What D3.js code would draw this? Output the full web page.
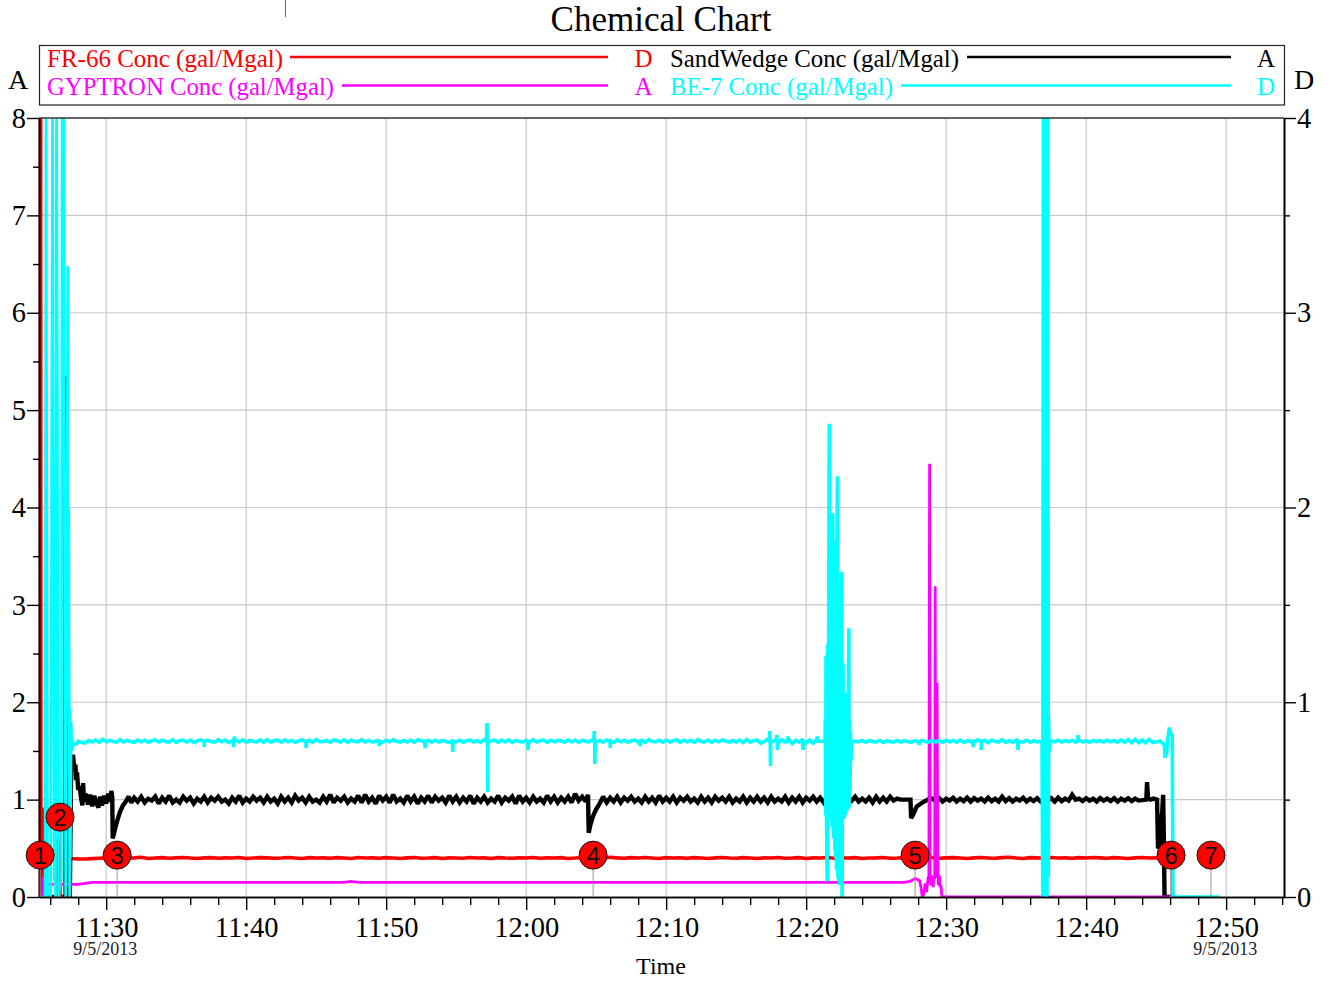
<!DOCTYPE html>
<html>
<head>
<meta charset="utf-8">
<script src="https://cdn.jsdelivr.net/npm/d3@7"></script>
<style>
html, body { margin: 0; padding: 0; background: #fff; }
svg { display: block; font-family: "Liberation Serif", serif; }
</style>
</head>
<body>
<div id="chart"></div>
<script>
"use strict";

// all times are minutes after 11:00 on 9/5/2013
var majorTicks = [30, 40, 50, 60, 70, 80, 90, 100, 110];
var majorLabels = ["11:30", "11:40", "11:50", "12:00", "12:10", "12:20", "12:30", "12:40", "12:50"];
var leftTicks = [0, 1, 2, 3, 4, 5, 6, 7, 8];
var rightTicks = [0, 1, 2, 3, 4];
var sampleStep = 0.25; // steady black and cyan runs
var slowStep = 0.5;    // steady red run

// FR-66, right axis
var frStart = [[25.2, 0], [25.3, 0], [25.31, 4.3], [25.34, 4.3], [25.35, 0], [25.46, 0], [25.5, 0.46], [25.54, 0], [26.43, 0], [26.5, 0.3], [26.65, 0.24], [26.7, 0.22], [26.73, 0], [27.4, 0], [27.45, 0.2]];
var frRun = [0.198, 0.196, 0.195, 0.197, 0.199, 0.201, 0.2, 0.203, 0.199, 0.201, 0.204, 0.198, 0.2, 0.202, 0.199, 0.201, 0.203, 0.2, 0.198, 0.201, 0.202, 0.199, 0.201, 0.2, 0.203, 0.198, 0.2, 0.202, 0.201, 0.199, 0.2, 0.203, 0.2, 0.198, 0.202, 0.2, 0.201, 0.199, 0.202, 0.2, 0.198, 0.203, 0.2, 0.201, 0.199, 0.202, 0.2, 0.198, 0.201, 0.203, 0.199, 0.2, 0.202, 0.198, 0.201, 0.2, 0.199, 0.203, 0.2, 0.201, 0.198, 0.202, 0.2, 0.199, 0.201, 0.2, 0.203, 0.199, 0.201, 0.2, 0.202, 0.198, 0.2, 0.203, 0.201, 0.199, 0.2, 0.204, 0.201, 0.199, 0.202, 0.2, 0.203, 0.2, 0.198, 0.202, 0.2, 0.201,
    0.199, 0.202, 0.2, 0.198, 0.201, 0.203, 0.2, 0.199, 0.202, 0.2, 0.198, 0.201, 0.2, 0.203, 0.199, 0.2, 0.202, 0.198, 0.201, 0.2, 0.203, 0.199, 0.201, 0.2, 0.202, 0.198, 0.2, 0.201, 0.203, 0.199, 0.2, 0.202, 0.201, 0.198, 0.2, 0.203, 0.199, 0.201, 0.202, 0.2, 0.198, 0.201, 0.203, 0.2, 0.199, 0.202, 0.204, 0.2, 0.198, 0.202, 0.201, 0.199, 0.203, 0.2, 0.201, 0.199, 0.202, 0.2, 0.203, 0.201, 0.199, 0.202, 0.2, 0.198, 0.201, 0.203, 0.2, 0.201];
var frEnd = [[106.15, 0.2], [106.18, 0], [106.3, 0]];

// SandWedge, left axis
var sandStart = [[25.3, 0], [27.1, 0], [27.13, 5.35], [27.16, 4.25], [27.22, 0], [27.4, 0], [27.5, 1.4], [27.64, 1.46], [27.72, 1.32], [27.8, 1.36], [27.86, 1.2], [27.92, 1.28], [28, 1.1], [28.1, 1.14], [28.2, 1.02], [28.3, 0.94], [28.36, 1.17], [28.42, 0.98], [28.55, 1.06], [28.7, 0.95], [28.85, 1.05], [29, 0.93], [29.15, 1.04], [29.3, 0.96], [29.45, 0.92], [29.57, 1.03], [29.7, 0.94], [29.85, 1.04], [30, 0.96], [30.15, 1.06], [30.3, 0.98], [30.38, 1.09], [30.44, 1.02], [30.47, 0.6], [30.6, 0.68], [30.8, 0.79], [31, 0.88], [31.2, 0.94], [31.4, 0.98], [31.6, 1.03], [31.8, 0.97]];
var sandRun1 = [1.02, 0.98, 1.03, 0.97, 1.01, 0.99, 1.03, 0.96, 1.02, 0.98, 1.04, 0.97, 1.0, 0.97, 1.03, 0.99, 1.02, 0.96, 1.01, 0.98, 1.03, 0.97, 1.02, 0.99, 1.03, 0.98, 1.0, 0.96, 1.02, 0.98, 1.04, 0.97,
    1.01, 0.98, 1.03, 0.99, 1.02, 0.97, 1.03, 0.98, 1.01, 0.96, 1.03, 0.98, 1.02, 0.97, 1.04, 0.99, 1.02, 0.97, 1.03, 0.98, 1.0, 0.97, 1.03, 0.98, 1.05, 0.97, 1.02, 0.99, 1.03, 0.97, 1.01, 0.98,
    1.04, 0.97, 1.05, 0.98, 1.02, 0.96, 1.04, 0.99, 1.03, 0.97, 1.05, 0.98, 1.01, 0.97, 1.04, 0.98, 1.03, 0.96, 1.02, 0.98, 1.04, 0.97, 1.03, 0.99, 1.02, 0.97, 1.04, 0.98, 1.03, 0.97, 1.02, 0.98,
    1.04, 0.96, 1.02, 0.98, 1.03, 0.97, 1.01, 0.98, 1.04, 0.97, 1.02, 0.99, 1.03, 0.96, 1.04, 0.98, 1.02, 0.97, 1.03, 0.98, 1.01, 0.97, 1.04, 0.98, 1.03, 0.97, 1.02, 0.98, 1.03, 0.97, 1.06, 0.99, 1.03, 0.98];
var sandDip1 = [[64.42, 1.05], [64.47, 0.66], [64.6, 0.74], [64.8, 0.84], [65, 0.9], [65.25, 0.96], [65.5, 1.03], [65.75, 0.97]];
var sandRun2 = [1.02, 0.98, 1.03, 0.97, 1.02, 0.99, 1.03, 0.98, 1.01, 0.97, 1.03, 0.98, 1.02, 0.97, 1.04, 0.98, 1.02, 0.98, 1.03, 0.97, 1.02, 0.99, 1.03, 0.98, 1.01, 0.97, 1.03, 0.98, 1.02, 0.97, 1.03, 0.99, 1.02, 0.98, 1.03, 0.97, 1.01, 0.98, 1.03, 0.97, 1.02, 0.98,
    1.03, 0.98, 1.02, 0.97, 1.03, 0.98, 1.01, 0.98, 1.03, 0.97, 1.02, 0.98, 1.03, 0.97, 1.02, 0.99, 1.03, 0.98, 1.02, 0.97, 1.03, 0.98, 1.07, 0.98, 1.03, 0.97, 1.02, 0.99, 1.03, 0.98, 1.01, 0.98, 1.02, 0.97, 1.03, 0.98, 1.02, 0.98, 1.03, 0.99, 1.01, 1.0];
var sandDip2 = [[87.45, 1.0], [87.5, 0.81], [87.65, 0.85], [87.9, 0.93], [88.3, 0.97], [88.7, 1.0]];
var sandRun3 = [1.01, 0.985, 1.015, 0.98, 1.01, 0.99, 1.02, 0.98, 1.01, 0.985, 1.02, 0.98, 1.015, 0.99, 1.01, 0.98, 1.02, 0.985, 1.01, 0.98, 1.03, 0.985, 1.015, 0.98, 1.01, 0.99, 1.02, 0.98, 1.01, 0.985, 1.015, 0.98, 1.01, 0.99, 1.015, 0.98, 1.02, 0.985, 1.01, 0.99,
    1.05, 1.0, 1.01, 0.985, 1.015, 0.99, 1.01, 0.98, 1.015, 0.99, 1.01, 0.985, 1.015, 0.98, 1.01, 0.99, 1.015, 0.985, 1.01, 0.99];
var sandEnd = [[104.3, 1.0], [104.36, 1.18], [104.42, 1.02], [104.6, 1.0], [104.8, 1.01], [105.07, 1.0], [105.14, 0.5], [105.25, 0.52], [105.32, 0.85], [105.38, 0.7], [105.5, 1.05], [105.55, 0.6], [105.6, 0], [106.1, 0]];

// GYPTRON, left axis
var gypValues = [[25.3, 0], [25.45, 0], [25.5, 0.2], [25.75, 0.13], [28, 0.13], [28.5, 0.14], [29, 0.15], [32, 0.15], [40, 0.15], [47, 0.15], [47.5, 0.16], [48, 0.15], [60, 0.15], [70, 0.15], [80, 0.15], [87, 0.15], [87.4, 0.16], [87.8, 0.19], [88.1, 0.17], [88.2, 0.1], [88.3, 0], [88.4, 0.03], [88.5, 0.14], [88.6, 0.05], [88.72, 0.2], [88.78, 0.2], [88.82, 4.45], [88.86, 0.2], [88.93, 0.12], [89, 0.22], [89.07, 0.1], [89.14, 0.2], [89.19, 0.2], [89.22, 3.19], [89.26, 0.2], [89.32, 0.3], [89.36, 2.2], [89.4, 0.3], [89.46, 0.12], [89.52, 0.22], [89.57, 0.1], [89.64, 0.12], [89.71, 0], [106.1, 0]];

// BE-7, right axis
var beBase = 0.8;
var beStart = [[25.3, 0], [25.64, 0], [25.71, 4.3], [25.82, 0], [26.04, 0], [26.18, 4.3], [26.29, 0.1], [26.39, 0], [26.46, 4.3], [26.6, 0], [26.8, 0.1], [26.86, 4.3], [26.95, 4.3], [27.1, 0], [27.14, 0.1], [27.25, 3.24], [27.29, 1], [27.34, 2], [27.39, 0], [27.43, 0.97], [27.46, 0.2], [27.5, 0.9], [27.57, 0.75], [27.64, 0.77], [27.71, 0.79], [27.85, 0.78]];
var beRun1 = [0.8, 0.794, 0.79, 0.803, 0.796, 0.806, 0.795, 0.81, 0.797, 0.805, 0.799, 0.795, 0.808, 0.796, 0.804, 0.798, 0.794, 0.806, 0.797, 0.805, 0.795, 0.802, 0.807, 0.796, 0.805, 0.799, 0.795, 0.808, 0.794, 0.803, 0.806, 0.796,
    0.805, 0.794, 0.801, 0.807, 0.796, 0.804, 0.798, 0.795, 0.808, 0.797, 0.806, 0.794, 0.802, 0.805, 0.796, 0.807, 0.795, 0.804, 0.799, 0.797, 0.806, 0.794, 0.808, 0.796, 0.803, 0.805, 0.795, 0.806, 0.797, 0.804, 0.794, 0.801,
    0.807, 0.796, 0.805, 0.794, 0.808, 0.799, 0.797, 0.804, 0.795, 0.806, 0.802, 0.796, 0.807, 0.794, 0.805, 0.798, 0.797, 0.808, 0.796, 0.804, 0.795, 0.801, 0.806, 0.794, 0.805, 0.797, 0.807, 0.799, 0.795, 0.804, 0.796, 0.806,
    0.794, 0.808, 0.802, 0.797, 0.805, 0.795, 0.806, 0.796, 0.804, 0.799, 0.794, 0.807, 0.797, 0.805, 0.795, 0.803, 0.806, 0.796, 0.804, 0.794, 0.808, 0.797, 0.801, 0.805, 0.795, 0.806, 0.796, 0.807, 0.794, 0.804, 0.799, 0.797,
    0.805, 0.795, 0.808, 0.796, 0.803, 0.806, 0.794, 0.805, 0.797, 0.804, 0.802, 0.795, 0.807, 0.796, 0.806, 0.794, 0.805, 0.799, 0.797, 0.808, 0.795, 0.804, 0.796, 0.806, 0.801, 0.794, 0.807, 0.797, 0.805, 0.795, 0.803, 0.806,
    0.796, 0.804, 0.794, 0.808, 0.798, 0.797, 0.805, 0.795, 0.806, 0.796, 0.802, 0.807, 0.794, 0.805, 0.797, 0.804, 0.795, 0.808, 0.799, 0.796, 0.806, 0.794, 0.805, 0.797, 0.807, 0.801, 0.795, 0.804, 0.796, 0.806, 0.793, 0.808,
    0.795, 0.803, 0.806, 0.79, 0.798, 0.81, 0.793, 0.805, 0.79, 0.808, 0.796, 0.81, 0.788, 0.804, 0.795, 0.811, 0.792, 0.806, 0.79, 0.809];
var beCluster = [[81.36, 0.8], [81.38, 0.91], [81.41, 0.42], [81.43, 1.24], [81.46, 0.45], [81.5, 0.08], [81.54, 1.3], [81.57, 0.42], [81.62, 1.6], [81.66, 2.43], [81.69, 0.42], [81.71, 1.7], [81.73, 0.42], [81.75, 1.1], [81.77, 0.4], [81.79, 1.8], [81.81, 0.4], [81.83, 1.2], [81.85, 0.36], [81.87, 1.7], [81.91, 1.97], [81.95, 0.3], [81.98, 1.6], [82.02, 1.83], [82.05, 0.24], [82.07, 1.5], [82.1, 0.2], [82.14, 1.6], [82.18, 0.14], [82.21, 1.8], [82.24, 2.16], [82.27, 0.1], [82.29, 1.6], [82.33, 0.08], [82.36, 1.4], [82.4, 0.06], [82.43, 1.5], [82.47, 0.1], [82.51, 1.5], [82.55, 1.67], [82.57, 0], [82.6, 1.1], [82.62, 0.42], [82.64, 1.2], [82.66, 0.42], [82.68, 0.95], [82.71, 0.4], [82.75, 0.95], [82.79, 1.05], [82.82, 0.42], [82.84, 0.95], [82.86, 0.44], [82.88, 0.92], [82.9, 0.44], [82.93, 0.9], [82.95, 0.45], [82.97, 0.95], [83, 0.45], [83.03, 0.95], [83.05, 1.38], [83.08, 0.46], [83.11, 0.9], [83.14, 0.55], [83.18, 0.85], [83.21, 0.7], [83.28, 0.8]];
var beRun2 = [0.8, 0.796, 0.804, 0.795, 0.803, 0.798, 0.796, 0.804, 0.794, 0.802, 0.799, 0.795, 0.804, 0.796, 0.803, 0.797, 0.795, 0.803, 0.796, 0.804, 0.798, 0.795, 0.804, 0.796, 0.803, 0.794, 0.805, 0.797, 0.804, 0.795, 0.806, 0.794, 0.803, 0.798, 0.795, 0.807, 0.796, 0.804, 0.793, 0.806, 0.799, 0.795, 0.808, 0.794, 0.803, 0.795, 0.806, 0.797, 0.796, 0.805, 0.795, 0.803, 0.796];
var beColumn = [[96.8, 0.8], [96.86, 0.8], [96.9, 0], [96.96, 4.3], [97, 0], [97.05, 4.3], [97.1, 0], [97.15, 4.3], [97.2, 0], [97.26, 4.3], [97.3, 0.1], [97.33, 0.92], [97.36, 0.75], [97.42, 0.79]];
var beRun3 = [0.802, 0.797, 0.805, 0.796, 0.803, 0.798, 0.804, 0.796, 0.806, 0.797, 0.802, 0.795, 0.804, 0.798, 0.803, 0.796, 0.805, 0.797, 0.804, 0.795, 0.807, 0.794, 0.808, 0.792, 0.81, 0.793, 0.806, 0.792, 0.809, 0.794];
var beEnd = [[105.3, 0.8], [105.45, 0.79], [105.6, 0.78], [105.64, 0.714], [105.7, 0.78], [105.75, 0.73], [105.8, 0.8], [105.95, 0.87], [106.05, 0.83], [106.15, 0.84], [106.2, 0], [109.5, 0]];
// short spikes on the steady BE-7 line: [minute, value]
var beSpikes = [[37, 0.77], [39.1, 0.77], [39.18, 0.825], [44.29, 0.765], [49.5, 0.775], [52.79, 0.765], [54.76, 0.745], [57.21, 0.893], [57.25, 0.54], [60.14, 0.755], [64.87, 0.852], [64.91, 0.683], [66, 0.765], [68.14, 0.775], [77.41, 0.852], [77.45, 0.673], [77.9, 0.832], [77.96, 0.755], [78.71, 0.825], [79.79, 0.755], [80.79, 0.825], [88.07, 0.78], [91.93, 0.77], [92.5, 0.755], [95.14, 0.755], [99.43, 0.832], [105.14, 0.842]];

// numbered event markers: minute, height on the left axis
var eventTimes = [25.29, 26.71, 30.79, 64.79, 87.79, 106.07, 108.93];
var eventLevels = [0.43, 0.82, 0.43, 0.43, 0.43, 0.43, 0.43];

// legend rows
var legendNames = ["FR-66 Conc (gal/Mgal)", "SandWedge Conc (gal/Mgal)", "GYPTRON Conc (gal/Mgal)", "BE-7 Conc (gal/Mgal)"];
var legendAxes = ["D", "A", "A", "D"];

function run(start, values, step) {
    return values.map(function (v, i) { return [start + i * step, v]; });
}

// steady samples with the spikes that fall between two minutes merged in
function steadyWithSpikes(start, values, from, to) {
    var points = run(start, values, sampleStep);
    beSpikes.filter(function (d) { return d[0] > from && d[0] < to; }).forEach(function (d) {
        points.push([d[0] - 0.03, beBase], d, [d[0] + 0.03, beBase]);
    });
    return points.sort(function (a, b) { return d3.ascending(a[0], b[0]); });
}

var frData = frStart.slice(-1).concat(run(27.5, frRun, slowStep), frEnd);
var sandData = sandStart.concat(run(32, sandRun1, sampleStep), sandDip1, run(66, sandRun2, sampleStep), sandDip2, run(89, sandRun3, sampleStep), sandEnd);
var beData = beStart.slice(-1).concat(steadyWithSpikes(28, beRun1, 28, 81.2), beCluster, steadyWithSpikes(83.5, beRun2, 83.5, 96.5), beColumn, steadyWithSpikes(97.5, beRun3, 97.5, 105), beEnd);

var width = 1330, height = 983;
var plot = { left: 39, right: 1284, top: 118, bottom: 897 };

function minuteDate(m) {
    return new Date(2013, 8, 5, 11, 0, m * 60);
}

var x = d3.scaleTime()
    .domain([minuteDate(30 + (plot.left - 106) / 14), minuteDate(30 + (plot.right - 106) / 14)])
    .range([plot.left, plot.right]);
var yA = d3.scaleLinear().domain([0, 8]).range([plot.bottom, plot.top]);
var yD = d3.scaleLinear().domain([0, 4]).range([plot.bottom, plot.top]);

var svg = d3.select("#chart").append("svg")
    .attr("width", width)
    .attr("height", height);

svg.append("defs").append("clipPath").attr("id", "plot-clip")
    .append("rect")
    .attr("x", plot.left - 1)
    .attr("y", plot.top)
    .attr("width", plot.right - plot.left + 2)
    .attr("height", plot.bottom - plot.top + 1);

// stray mark above the plot
svg.append("line")
    .attr("x1", 285.5).attr("x2", 285.5)
    .attr("y1", 0).attr("y2", 17)
    .attr("stroke", "#666");

svg.append("text")
    .attr("x", 661).attr("y", 31)
    .attr("text-anchor", "middle")
    .attr("font-size", 36)
    .attr("textLength", 221)
    .attr("lengthAdjust", "spacingAndGlyphs")
    .text("Chemical Chart");

//grid
var grid = svg.append("g").attr("stroke", "#c8c8c8").attr("stroke-width", 1.2);
grid.selectAll("line.v").data(majorTicks).enter().append("line")
    .attr("class", "v")
    .attr("x1", function (d) { return x(minuteDate(d)); })
    .attr("x2", function (d) { return x(minuteDate(d)); })
    .attr("y1", plot.top).attr("y2", plot.bottom);
grid.selectAll("line.h").data(leftTicks.slice(1, -1)).enter().append("line")
    .attr("class", "h")
    .attr("x1", plot.left).attr("x2", plot.right)
    .attr("y1", function (d) { return yA(d); })
    .attr("y2", function (d) { return yA(d); });

//series
var lines = svg.append("g").attr("clip-path", "url(#plot-clip)").attr("fill", "none").attr("stroke-linejoin", "miter").attr("stroke-miterlimit", 2);

function drawSeries(data, yScale, colour, strokeWidth) {
    var path = d3.line()
        .x(function (d) { return x(minuteDate(d[0])); })
        .y(function (d) { return yScale(d[1]); });
    lines.append("path")
        .attr("d", path(data))
        .attr("stroke", colour)
        .attr("stroke-width", strokeWidth);
}

//axes, drawn under the series for the left edge so the red stays visible
var minorTimes = d3.range(26, 116, 2).filter(function (m) { return majorTicks.indexOf(m) < 0; }).map(minuteDate);

function plainAxis(g) {
    g.selectAll(".tick line").attr("stroke", "#000").attr("stroke-width", 1.4);
    g.selectAll(".domain").attr("stroke", "#000").attr("stroke-width", 1.6);
    g.selectAll("text").attr("fill", "#000").attr("font-family", "Liberation Serif").attr("font-size", 28.5);
}

svg.append("g")
    .attr("transform", "translate(" + plot.left + ",0)")
    .call(d3.axisLeft(yA).tickValues(d3.range(0.5, 8, 1)).tickSize(6).tickFormat("").tickSizeOuter(0))
    .call(plainAxis);
svg.append("g")
    .attr("transform", "translate(" + plot.left + ",0)")
    .call(d3.axisLeft(yA).tickValues(leftTicks).tickSize(12).tickPadding(1).tickSizeOuter(0))
    .call(plainAxis);

drawSeries(frData, yD, "#ff0000", 3.6);
drawSeries(sandData, yA, "#000000", 4.4);
drawSeries(frStart, yD, "#ff0000", 3.2);
drawSeries(gypValues, yA, "#ff00ff", 2.8);
drawSeries(beData, yD, "#00ffff", 3.6);
// the first minutes have narrow columns with white between them
drawSeries(beStart, yD, "#00ffff", 2.6);

svg.append("g")
    .attr("transform", "translate(0," + plot.bottom + ")")
    .call(d3.axisBottom(x).tickValues(minorTimes).tickSize(8).tickFormat("").tickSizeOuter(0))
    .call(plainAxis);
svg.append("g")
    .attr("transform", "translate(0," + plot.bottom + ")")
    .call(d3.axisBottom(x).tickValues(majorTicks.map(minuteDate)).tickSize(13).tickSizeOuter(0)
        .tickFormat(function (d, i) { return majorLabels[i]; }))
    .call(plainAxis)
    .selectAll("text").attr("dy", 0).attr("y", 40);

svg.append("g")
    .attr("transform", "translate(" + plot.right + ",0)")
    .call(d3.axisRight(yD).tickValues(d3.range(0.5, 4, 1)).tickSize(6).tickFormat("").tickSizeOuter(0))
    .call(plainAxis);
svg.append("g")
    .attr("transform", "translate(" + plot.right + ",0)")
    .call(d3.axisRight(yD).tickValues(rightTicks).tickSize(12).tickPadding(1).tickSizeOuter(0).tickFormat(d3.format("d")))
    .call(plainAxis);

svg.append("line")
    .attr("x1", plot.left).attr("x2", plot.right)
    .attr("y1", plot.top).attr("y2", plot.top)
    .attr("stroke", "#333").attr("stroke-width", 1.6);

// dates under the first and last labels
svg.selectAll("text.date").data([30, 110]).enter().append("text")
    .attr("class", "date")
    .attr("x", function (d) { return x(minuteDate(d)) - 1; })
    .attr("y", 955)
    .attr("text-anchor", "middle")
    .attr("font-size", 18)
    .attr("fill", "#222")
    .text("9/5/2013");

svg.append("text")
    .attr("x", 661).attr("y", 974)
    .attr("text-anchor", "middle")
    .attr("font-size", 24)
    .text("Time");

svg.append("text").attr("x", 18).attr("y", 89).attr("text-anchor", "middle").attr("font-size", 28).text("A");
svg.append("text").attr("x", 1304).attr("y", 89).attr("text-anchor", "middle").attr("font-size", 28).text("D");

//legend
svg.append("rect")
    .attr("x", 39.5).attr("y", 45.5)
    .attr("width", 1245).attr("height", 59.5)
    .attr("fill", "#fff").attr("stroke", "#222").attr("stroke-width", 1.2);

var legendColours = ["#ff0000", "#000000", "#ff00ff", "#00ffff"];
var legendRows = [
    { tx: 47, ty: 67, len: 236, ly: 57, x1: 290, x2: 608, ax: 643.5 },
    { tx: 670, ty: 67, len: 289, ly: 57, x1: 967, x2: 1231, ax: 1266 },
    { tx: 47, ty: 95, len: 287, ly: 85.5, x1: 342, x2: 608, ax: 643.5 },
    { tx: 670, ty: 95, len: 223, ly: 85.5, x1: 901, x2: 1231, ax: 1266 }
];
var legend = svg.selectAll("g.legend-row").data(legendRows).enter().append("g")
    .attr("class", "legend-row")
    .attr("font-size", 25)
    .attr("fill", function (d, i) { return legendColours[i]; });
legend.append("text")
    .attr("x", function (d) { return d.tx; })
    .attr("y", function (d) { return d.ty; })
    .attr("textLength", function (d) { return d.len; })
    .attr("lengthAdjust", "spacingAndGlyphs")
    .text(function (d, i) { return legendNames[i]; });
legend.append("line")
    .attr("x1", function (d) { return d.x1; })
    .attr("x2", function (d) { return d.x2; })
    .attr("y1", function (d) { return d.ly; })
    .attr("y2", function (d) { return d.ly; })
    .attr("stroke", function (d, i) { return legendColours[i]; })
    .attr("stroke-width", 2.6);
legend.append("text")
    .attr("x", function (d) { return d.ax; })
    .attr("y", function (d) { return d.ty; })
    .attr("text-anchor", "middle")
    .text(function (d, i) { return legendAxes[i]; });

//event markers
var events = svg.selectAll("g.event").data(eventTimes).enter().append("g")
    .attr("class", "event")
    .attr("transform", function (d, i) { return "translate(" + x(minuteDate(d)) + "," + yA(eventLevels[i]) + ")"; });
events.append("line")
    .attr("y1", 0)
    .attr("y2", function (d, i) { return plot.bottom - yA(eventLevels[i]); })
    .attr("stroke", "#999").attr("stroke-width", 1);
events.append("circle")
    .attr("r", 14)
    .attr("fill", "#ff0000")
    .attr("stroke", "#111").attr("stroke-width", 1);
events.append("text")
    .attr("text-anchor", "middle")
    .attr("y", 8.5)
    .attr("font-family", "Liberation Sans")
    .attr("font-size", 24)
    .attr("fill", "#111")
    .text(function (d, i) { return i + 1; });
</script>
</body>
</html>
